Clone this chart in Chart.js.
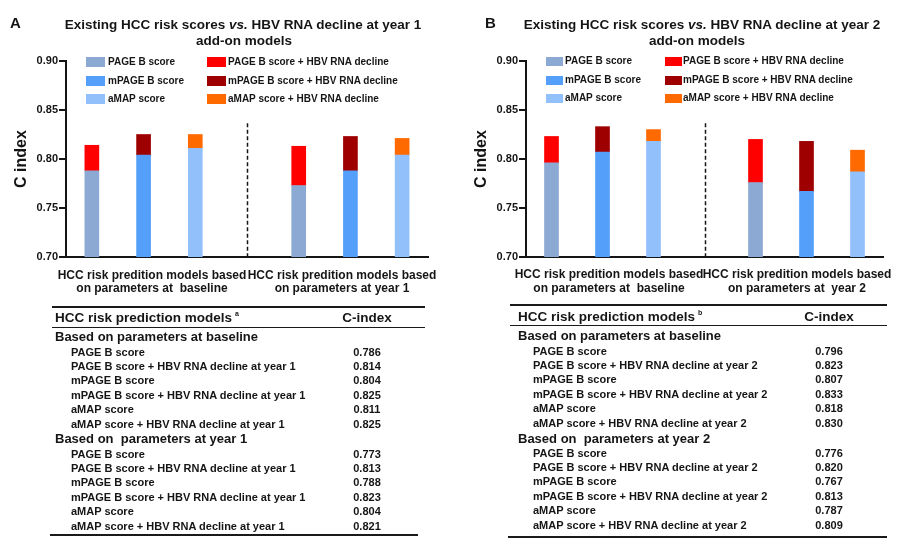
<!DOCTYPE html>
<html><head><meta charset="utf-8">
<script src="https://cdn.jsdelivr.net/npm/chart.js@4.4.1/dist/chart.umd.min.js"></script>
<style>
html,body{margin:0;padding:0;background:#fff;}
#root{position:relative;width:909px;height:541px;overflow:hidden;font-family:"Liberation Sans",Arial,sans-serif;color:#151515;}
.t{position:absolute;white-space:pre;font-weight:bold;}
canvas{position:absolute;top:0;}
.rule{position:absolute;background:#1a1a1a;}
.sw{position:absolute;}
.sup{position:relative;top:-6px;font-size:7px;line-height:0;margin-left:3px;}
</style></head><body><div id="root"></div>
<script>
// ---------- shared ----------
const scoreNames = ['PAGE B score', 'mPAGE B score', 'aMAP score'];
const addonNames = ['PAGE B score + HBV RNA decline', 'mPAGE B score + HBV RNA decline', 'aMAP score + HBV RNA decline'];
const scoreColors = ['#8BA9D2', '#549FFA', '#92C0FA'];
const addonColors = ['#FF0000', '#9E0000', '#FF6A00'];
const axisMin = 0.70, axisMax = 0.90, axisStep = 0.05;
const dividerTop = 0.8365;
const categories = ['PAGE B', 'mPAGE B', 'aMAP', '', 'PAGE B ', 'mPAGE B ', 'aMAP '];

// ---------- panel A (bars) ----------
const baselineScoresA = [0.788, 0.804, 0.811];
const baselineAddonA  = [0.814, 0.825, 0.825];
const year1ScoresA    = [0.773, 0.788, 0.804];
const year1AddonA     = [0.813, 0.823, 0.821];
const groupLabelsA = [['HCC risk predition models based', 'on parameters at  baseline'],
                      ['HCC risk predition models based', 'on parameters at year 1']];

// ---------- panel B (bars) ----------
const baselineScoresB = [0.796, 0.807, 0.818];
const baselineAddonB  = [0.823, 0.833, 0.830];
const year2ScoresB    = [0.776, 0.767, 0.787];
const year2AddonB     = [0.820, 0.818, 0.809];
const groupLabelsB = [['HCC risk predition models based', 'on parameters at  baseline'],
                      ['HCC risk predition models based', 'on parameters at  year 2']];

// ---------- tables ----------
const tableHeader = 'HCC risk prediction models';
const tableValueHeader = 'C-index';
const tableGroupsA = ['Based on parameters at baseline', 'Based on  parameters at year 1'];
const tableRowsA = ['PAGE B score', 'PAGE B score + HBV RNA decline at year 1', 'mPAGE B score',
  'mPAGE B score + HBV RNA decline at year 1', 'aMAP score', 'aMAP score + HBV RNA decline at year 1'];
const tableValsA1 = ['0.786', '0.814', '0.804', '0.825', '0.811', '0.825'];
const tableValsA2 = ['0.773', '0.813', '0.788', '0.823', '0.804', '0.821'];
const tableGroupsB = ['Based on parameters at baseline', 'Based on  parameters at year 2'];
const tableRowsB = ['PAGE B score', 'PAGE B score + HBV RNA decline at year 2', 'mPAGE B score',
  'mPAGE B score + HBV RNA decline at year 2', 'aMAP score', 'aMAP score + HBV RNA decline at year 2'];
const tableValsB1 = ['0.796', '0.823', '0.807', '0.833', '0.818', '0.830'];
const tableValsB2 = ['0.776', '0.820', '0.767', '0.813', '0.787', '0.809'];

const FONT = '"Liberation Sans", Arial, sans-serif';
Chart.defaults.font.family = FONT;
Chart.defaults.color = '#151515';
const root = document.getElementById('root');

function text(html, x, cy, size, center) {
  const d = document.createElement('div');
  d.className = 't';
  d.innerHTML = html;
  d.style.fontSize = size + 'px';
  d.style.lineHeight = size + 'px';
  d.style.top = (cy - size / 2) + 'px';
  d.style.left = x + 'px';
  if (center) d.style.transform = 'translateX(-50%)';
  root.appendChild(d);
  return d;
}
function rule(x, y, w, h) {
  const d = document.createElement('div');
  d.className = 'rule';
  Object.assign(d.style, {left: x + 'px', top: y + 'px', width: w + 'px', height: h + 'px'});
  root.appendChild(d);
}
function swatch(x, cy, w, h, color) {
  const d = document.createElement('div');
  d.className = 'sw';
  Object.assign(d.style, {left: x + 'px', top: (cy - h / 2) + 'px', width: w + 'px', height: h + 'px', background: color});
  root.appendChild(d);
}

const divider = {
  id: 'divider',
  afterDatasetsDraw(chart) {
    const {ctx, scales: {x, y}} = chart;
    const px = Math.round(x.getPixelForValue(3)) + 0.5;
    ctx.save();
    ctx.setLineDash([4, 2.5]);
    ctx.lineWidth = 1.5;
    ctx.strokeStyle = '#151515';
    ctx.beginPath();
    ctx.moveTo(px, y.getPixelForValue(dividerTop));
    ctx.lineTo(px, y.getPixelForValue(axisMin));
    ctx.stroke();
    ctx.restore();
  }
};

function makeChart(p) {
  const cv = document.createElement('canvas');
  cv.width = p.width; cv.height = 300;
  cv.style.left = p.left + 'px'; cv.style.width = p.width + 'px'; cv.style.height = '300px';
  root.appendChild(cv);
  const datasets = [];
  for (let k = 0; k < 3; k++) {
    const d = Array(7).fill(null);
    d[k] = [axisMin, p.base1[k]]; d[k + 4] = [axisMin, p.base2[k]];
    datasets.push({label: scoreNames[k], data: d, backgroundColor: scoreColors[k]});
  }
  for (let k = 0; k < 3; k++) {
    const d = Array(7).fill(null);
    d[k] = [p.base1[k], p.add1[k]]; d[k + 4] = [p.base2[k], p.add2[k]];
    datasets.push({label: addonNames[k], data: d, backgroundColor: addonColors[k]});
  }
  new Chart(cv.getContext('2d'), {
    type: 'bar',
    data: {labels: categories, datasets},
    options: {
      responsive: false, animation: false,
      layout: {padding: {top: 61, right: p.right, left: 0, bottom: 0}},
      plugins: {legend: {display: false}, tooltip: {enabled: false}},
      datasets: {bar: {grouped: false, barThickness: 14}},
      scales: {
        x: {
          ticks: {display: false}, grid: {display: false},
          border: {color: '#151515', width: 2},
          afterFit: s => { s.height = 43; }
        },
        y: {
          min: axisMin, max: axisMax,
          ticks: {stepSize: axisStep, callback: v => Number(v).toFixed(2), font: {size: 11, weight: 'bold'}, color: '#151515', padding: 1},
          grid: {drawOnChartArea: false, drawTicks: true, tickLength: 7, lineWidth: 2, tickWidth: 2, tickColor: '#151515', color: '#151515'},
          border: {color: '#151515', width: 2},
          title: {display: true, text: 'C index', font: {size: 16, weight: 'bold'}, color: '#151515', padding: {top: p.tp, bottom: 0}},
          afterFit: s => { s.width = p.yw; }
        }
      }
    },
    plugins: [divider]
  });

  // panel letter and title
  text(p.letter, p.letterX, 22.5, 15, false);
  text(p.title[0] + '<i>' + p.title[1] + '</i>' + p.title[2], p.titleX, 25, 13.5, true);
  text('add-on models', p.title2X, 41, 13.5, true);
  // legend
  const L = p.legend;
  for (let k = 0; k < 3; k++) {
    swatch(L.sw1, L.rows[k], L.swW, L.swH, scoreColors[k]);
    text(scoreNames[k], L.tx1, L.rows[k], 10, false);
    swatch(L.sw2, L.rows[k], L.swW, L.swH, addonColors[k]);
    text(addonNames[k], L.tx2, L.rows[k], 10, false);
  }
  // group labels
  for (let g = 0; g < 2; g++) {
    text(p.groups[g][0], p.groupX[g], p.groupY[0], 12, true);
    text(p.groups[g][1], p.groupX[g], p.groupY[1], 12, true);
  }
}

function makeTable(t) {
  rule(t.x0, t.topY - 1, t.x1 - t.x0, 2);
  text(tableHeader + '<span class="sup">' + t.sup + '</span>', t.hx, t.headY, 13.5, false);
  text(tableValueHeader, t.vx, t.headY, 13.5, true);
  rule(t.x0, t.midY - 0.5, t.x1 - t.x0, 1.3);
  const groups = [[t.g1Y, t.groups[0], t.vals1, t.r1Y], [t.g2Y, t.groups[1], t.vals2, t.r2Y]];
  for (const [gy, gname, vals, ry] of groups) {
    text(gname, t.hx, gy, 13, false);
    for (let i = 0; i < t.rows.length; i++) {
      const y = ry + i * t.step;
      text(t.rows[i], t.rx, y, 11, false);
      text(vals[i], t.vx, y, 11, true);
    }
  }
  rule(t.bx0, t.botY - 1, t.bx1 - t.bx0, 2);
}

makeChart({left: 0, width: 450, yw: 66, right: 22, tp: 12.4, letter: 'A', letterX: 10,
  title: ['Existing HCC risk scores ', 'vs.', ' HBV RNA decline at year 1'], titleX: 243, title2X: 244,
  legend: {sw1: 86, tx1: 108, sw2: 207, tx2: 228, rows: [62, 81, 99], swW: 19, swH: 10},
  groups: groupLabelsA, groupX: [152, 342], groupY: [275, 288],
  base1: baselineScoresA, add1: baselineAddonA, base2: year1ScoresA, add2: year1AddonA});

makeChart({left: 450, width: 459, yw: 76, right: 26, tp: 22.4, letter: 'B', letterX: 485,
  title: ['Existing HCC risk scores ', 'vs.', ' HBV RNA decline at year 2'], titleX: 702, title2X: 697,
  legend: {sw1: 546, tx1: 565, sw2: 665, tx2: 683, rows: [61, 80, 98], swW: 17, swH: 9},
  groups: groupLabelsB, groupX: [609, 797], groupY: [274, 288],
  base1: baselineScoresB, add1: baselineAddonB, base2: year2ScoresB, add2: year2AddonB});

makeTable({x0: 52, x1: 425, topY: 307, headY: 318, midY: 327, hx: 55, vx: 367, sup: 'a',
  g1Y: 336, g2Y: 438, r1Y: 352, r2Y: 454, step: 14.4, rx: 71, bx0: 50, bx1: 418, botY: 535,
  groups: tableGroupsA, rows: tableRowsA, vals1: tableValsA1, vals2: tableValsA2});

makeTable({x0: 510, x1: 887, topY: 305, headY: 317, midY: 325, hx: 518, vx: 829, sup: 'b',
  g1Y: 335, g2Y: 438, r1Y: 351, r2Y: 453, step: 14.4, rx: 533, bx0: 508, bx1: 887, botY: 537,
  groups: tableGroupsB, rows: tableRowsB, vals1: tableValsB1, vals2: tableValsB2});
</script>
</body></html>
